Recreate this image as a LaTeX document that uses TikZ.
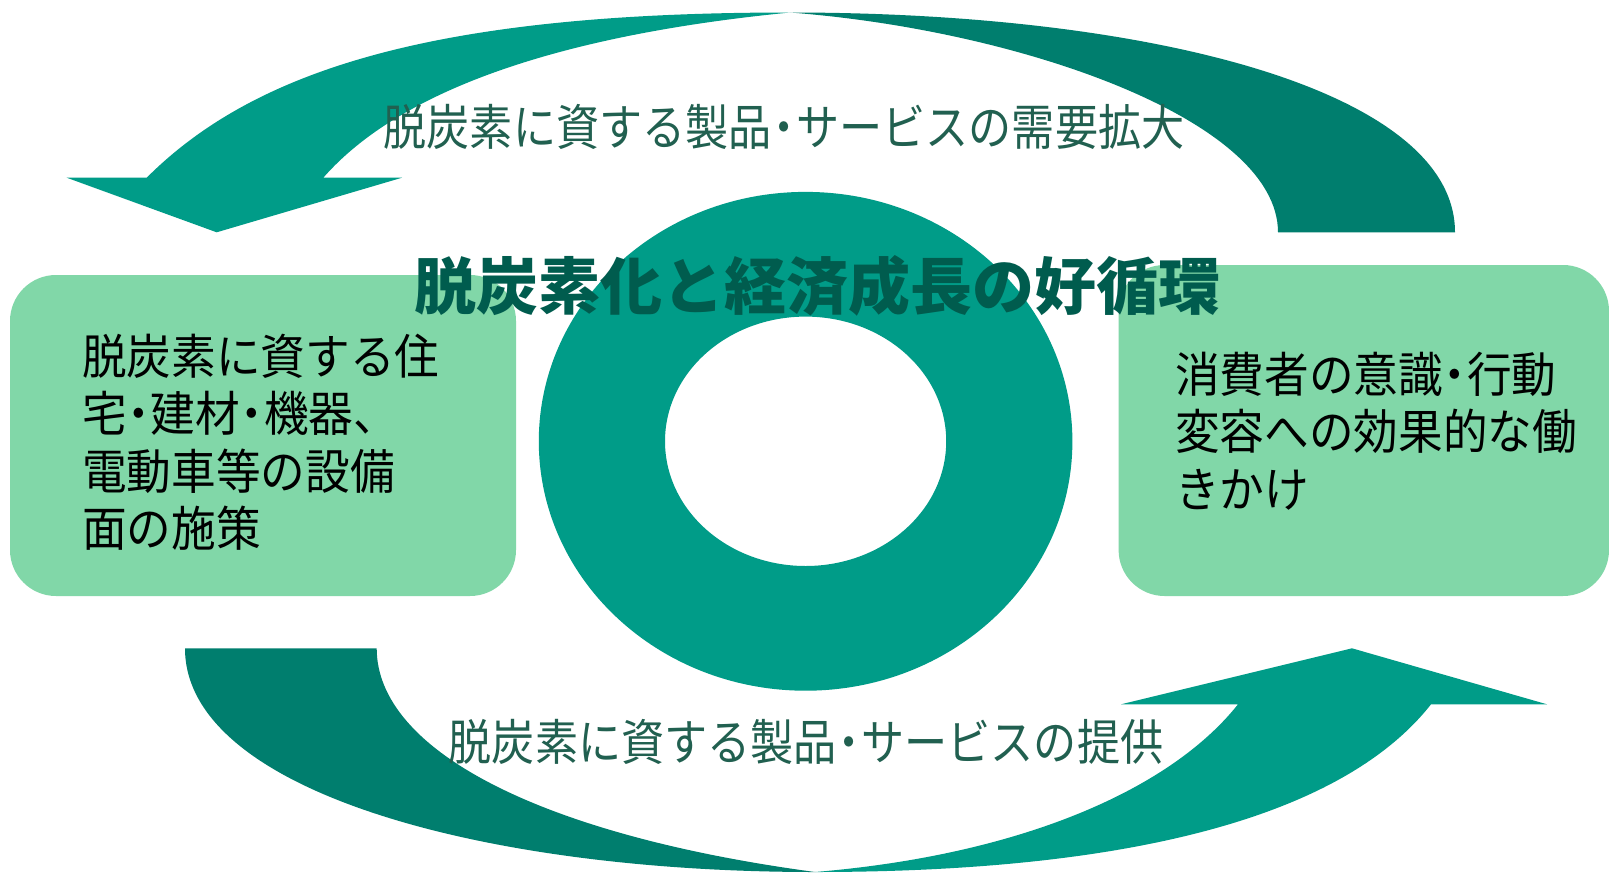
\documentclass[tikz,border=0pt]{standalone}
\usepackage{fontspec}
\newfontfamily\jpbase{Noto Sans CJK JP}
\newfontfamily\jplabel[FakeStretch=0.88]{Noto Sans CJK JP}
\newfontfamily\jpbox[FakeStretch=0.93]{Noto Sans CJK JP}
\newcommand{\nkg}{\makebox[0.5em][c]{・}}
\definecolor{tealL}{RGB}{0,156,136}
\definecolor{tealD}{RGB}{0,126,110}
\definecolor{boxG}{RGB}{129,215,168}
\definecolor{titleG}{RGB}{0,92,78}
\definecolor{labelG}{RGB}{33,96,80}
\begin{document}
\begin{tikzpicture}[x=1pt,y=-1pt,
  lightpart/.style={fill=tealL,draw=none},
  darkpart/.style={fill=tealD,draw=none},
  ringshape/.style={fill=tealL,even odd rule},
  roundbox/.style={fill=boxG,rounded corners=46pt},
  flowlabel/.style={font=\jplabel\fontsize{49}{56}\selectfont,text=labelG,inner sep=0pt},
  boxtext/.style={font=\jpbox\fontsize{48}{57.5}\selectfont,text=black,align=left,anchor=west,inner sep=0pt},
  titletext/.style={font=\jpbase\bfseries\fontsize{62}{70}\selectfont,text=titleG,inner sep=0pt}]

\useasboundingbox (0,0) rectangle (1609,873);
\fill[white] (0,0) rectangle (1609,873);

% central ring
\path[ringshape] (805.6,441.3) ellipse [x radius=266.8pt, y radius=249.4pt]
                 (805.6,441.3) ellipse [x radius=140.6pt, y radius=124.7pt];

% side boxes
\path[roundbox] (10,275) rectangle (516,596);
\path[roundbox] (1118.6,265) rectangle (1609,596);

% top arrow: light half with head (left), dark half (right)
\fill[lightpart] (790,12.5) .. controls (440,12.5) and (256.7,67.7) .. (146.7,177.7)
  -- (66.7,177.7) -- (216.7,232.3) -- (402,177.7) -- (323.3,177.7)
  .. controls (400,90) and (560,35) .. (790,12.5) -- cycle;
\fill[darkpart] (790,12.5) .. controls (1150,12.5) and (1455,90) .. (1455,232.3)
  -- (1278,232.3) .. controls (1278,120) and (1020,30) .. (790,12.5) -- cycle;

% bottom arrow: dark half (left), light half with head (right)
\fill[darkpart] (185,648.3) -- (376.7,648.3)
  .. controls (376.7,750) and (540,835) .. (815,872)
  .. controls (480,872) and (185,790) .. (185,648.3) -- cycle;
\fill[lightpart] (815,872) .. controls (1020,855) and (1170,790) .. (1238,704.3)
  -- (1121,704.3) -- (1352,648.3) -- (1547,704.3) -- (1431,704.3)
  .. controls (1340,820) and (1120,872) .. (815,872) -- cycle;

% labels
\node[flowlabel] (demand) at (784,126.5) {脱炭素に資する製品\nkg サービスの需要拡大};
\node[flowlabel] (supply) at (806,741.5) {脱炭素に資する製品\nkg サービスの提供};

\node[boxtext] (leftmeasures) at (82,442) {脱炭素に資する住\\宅\nkg 建材\nkg 機器、\\電動車等の設備\\面の施策};
\node[boxtext] (rightaction) at (1175,431) {消費者の意識\nkg 行動\\変容への効果的な働\\きかけ};

\node[titletext] (title) at (817,285.5) {脱炭素化と経済成長の好循環};
\end{tikzpicture}
\end{document}
